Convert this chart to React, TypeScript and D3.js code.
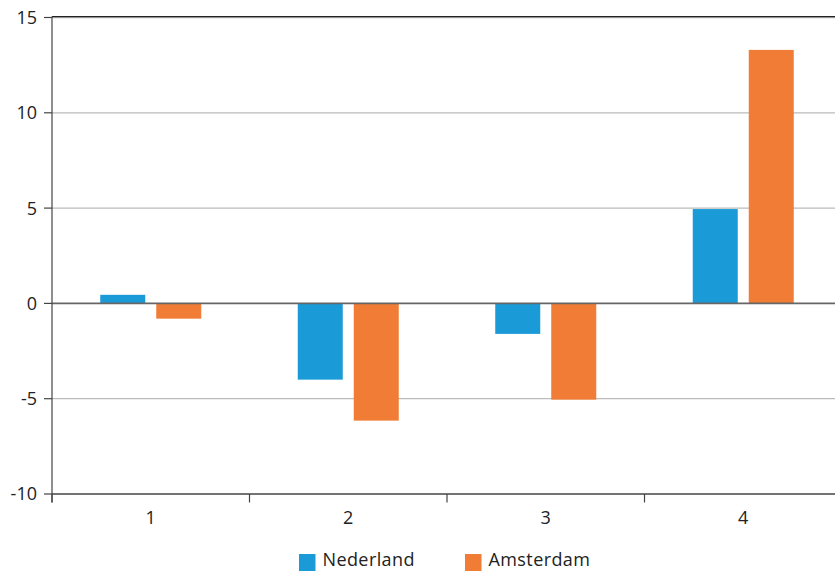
import React from "react";
import * as d3 from "d3";

const categories = ["1", "2", "3", "4"];
const seriesNames = ["Nederland", "Amsterdam"];
const nederland = [0.45, -4.0, -1.6, 4.95];
const amsterdam = [-0.8, -6.15, -5.05, 13.3];
const yTicks = [15, 10, 5, 0, -5, -10];
const colors = ["#1a9bd7", "#f07c35"];

const W = 835;
const H = 571;
const left = 52;
const plotRight = 842;
const top = 17.5;
const bottom = 494;
const font = "'Open Sans', 'Noto Sans', sans-serif";

export default function App() {
  const x = d3.scaleBand<string>().domain(categories).range([left, plotRight]);
  const y = d3.scaleLinear().domain([-10, 15]).range([bottom, top]);
  const series = [nederland, amsterdam];
  const barW = 45;
  const gap = 11;
  return (
    <svg width={W} height={H} style={{ position: "absolute", left: 0, top: 0, background: "#fff" }}>
      {yTicks.map((t) => (
        <g key={t}>
          {t !== 0 && t !== -10 && (
            <line x1={left} x2={W} y1={y(t)} y2={y(t)} stroke="#bbb" strokeWidth={1.3} />
          )}
          <line x1={44} x2={left} y1={y(t)} y2={y(t)} stroke="#444" strokeWidth={1.2} />
          <text x={37} y={y(t)} dy="0.36em" textAnchor="end" fontFamily={font} fontSize={18} fill="#222">
            {t}
          </text>
        </g>
      ))}
      <line x1={left} x2={W} y1={top - 0.8} y2={top - 0.8} stroke="#222" strokeWidth={1.2} />
      {categories.map((c, i) => {
        const cx = x(c)! + x.bandwidth() / 2;
        return (
          <g key={c}>
            {series.map((s, j) => {
              const v = s[i];
              const x0 = j === 0 ? cx - gap / 2 - barW : cx + gap / 2;
              return (
                <rect
                  key={j}
                  x={x0}
                  width={barW}
                  y={Math.min(y(v), y(0))}
                  height={Math.abs(y(v) - y(0))}
                  fill={colors[j]}
                />
              );
            })}
            <text x={cx} y={524} textAnchor="middle" fontFamily={font} fontSize={18} fill="#222">
              {c}
            </text>
          </g>
        );
      })}
      <line x1={left} x2={W} y1={y(0)} y2={y(0)} stroke="#666" strokeWidth={1.6} />
      <line x1={left} x2={W} y1={bottom} y2={bottom} stroke="#444" strokeWidth={1.4} />
      {categories.map((c) => (
        <line key={c} x1={x(c)!} x2={x(c)!} y1={bottom} y2={502.5} stroke="#444" strokeWidth={1.2} />
      ))}
      <line x1={left} x2={left} y1={top - 1} y2={502.5} stroke="#444" strokeWidth={1.2} />
      {seriesNames.map((n, j) => {
        const lx = j === 0 ? 299 : 465;
        return (
          <g key={n}>
            <rect x={lx} y={554} width={16.5} height={17} fill={colors[j]} />
            <text x={lx + 23.5} y={566} fontFamily={font} fontSize={18} letterSpacing={0.4} fill="#222">
              {n}
            </text>
          </g>
        );
      })}
    </svg>
  );
}
